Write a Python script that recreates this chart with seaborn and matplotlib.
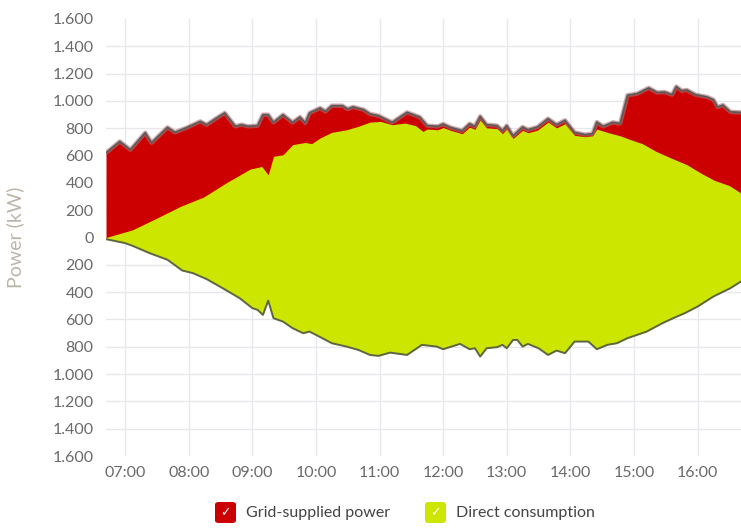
import numpy as np
import pandas as pd
import matplotlib
matplotlib.use("Agg")
import matplotlib.pyplot as plt
import seaborn as sns
from matplotlib.patches import FancyBboxPatch
from matplotlib.ticker import FuncFormatter

# total consumption (top line), kW
total_time = ["06:42", "06:55", "07:05", "07:19", "07:25", "07:40", "07:47", "07:58", "08:11", "08:17",
              "08:25", "08:34", "08:44", "08:50", "08:56", "09:05", "09:10", "09:15", "09:20", "09:29",
              "09:38", "09:45", "09:50", "09:54", "10:04", "10:09", "10:15", "10:25", "10:30", "10:35",
              "10:45", "10:51", "10:59", "11:12", "11:26", "11:38", "11:45", "11:55", "12:00", "12:07",
              "12:18", "12:25", "12:30", "12:35", "12:41", "12:51", "12:56", "13:00", "13:06", "13:15",
              "13:20", "13:29", "13:39", "13:47", "13:55", "14:04", "14:14", "14:21", "14:25", "14:31",
              "14:40", "14:47", "14:54", "15:03", "15:14", "15:22", "15:29", "15:36", "15:40", "15:45",
              "15:50", "15:58", "16:09", "16:15", "16:19", "16:24", "16:31", "16:41"]
total_kw = [620, 703, 643, 767, 694, 806, 770, 804, 850, 826,
            868, 912, 814, 826, 814, 819, 899, 899, 843, 899,
            843, 882, 839, 912, 948, 923, 965, 965, 941, 956,
            936, 905, 892, 843, 916, 882, 819, 814, 831, 806,
            782, 833, 814, 887, 826, 819, 782, 819, 745, 809,
            789, 809, 870, 826, 858, 770, 753, 760, 845, 814,
            843, 835, 1042, 1053, 1095, 1062, 1065, 1046, 1105, 1075,
            1080, 1046, 1029, 1009, 955, 970, 920, 916]

# direct consumption (upper green edge), kW
direct_time = ["06:42", "07:07", "07:30", "07:52", "08:14", "08:36", "08:58", "09:09", "09:15", "09:20",
               "09:29", "09:38", "09:50", "09:56", "10:04", "10:15", "10:29", "10:40", "10:51", "11:01",
               "11:12", "11:24", "11:34", "11:41", "11:45", "11:55", "12:00", "12:07", "12:18", "12:25",
               "12:30", "12:35", "12:41", "12:51", "12:56", "13:00", "13:06", "13:15", "13:20", "13:29",
               "13:39", "13:47", "13:55", "14:04", "14:14", "14:21", "14:25", "14:37", "14:47", "14:57",
               "15:08", "15:21", "15:35", "15:50", "16:03", "16:16", "16:30", "16:41"]
direct_kw = [0, 56, 142, 227, 296, 403, 501, 520, 459, 594,
             606, 680, 696, 687, 729, 770, 789, 814, 845, 850,
             826, 838, 819, 777, 794, 789, 805, 785, 760, 808,
             792, 860, 803, 797, 760, 795, 725, 785, 767, 786,
             845, 803, 833, 748, 738, 745, 794, 765, 745, 716,
             687, 630, 582, 533, 472, 418, 380, 325]

# PV generation (lower green area), kW, drawn downwards
pv_time = ["06:42", "07:00", "07:07", "07:23", "07:40", "07:54", "08:04", "08:17", "08:32", "08:48",
           "09:00", "09:05", "09:10", "09:15", "09:20", "09:29", "09:38", "09:48", "09:54", "10:06",
           "10:15", "10:29", "10:40", "10:51", "10:59", "11:10", "11:26", "11:40", "11:54", "12:00",
           "12:16", "12:25", "12:30", "12:35", "12:41", "12:51", "12:56", "13:00", "13:06", "13:10",
           "13:15", "13:20", "13:30", "13:39", "13:47", "13:55", "14:04", "14:17", "14:25", "14:35",
           "14:44", "14:54", "15:12", "15:27", "15:37", "15:48", "16:00", "16:15", "16:31", "16:41"]
pv_kw = [12, 41, 61, 114, 163, 242, 261, 305, 371, 444,
         517, 530, 567, 462, 591, 616, 664, 701, 689, 737,
         774, 799, 823, 860, 867, 843, 860, 786, 799, 818,
         779, 818, 811, 872, 811, 803, 786, 811, 750, 750,
         799, 779, 811, 860, 828, 847, 762, 762, 818, 786,
         774, 737, 689, 627, 591, 554, 506, 432, 371, 322]

hour_ticks = ["07:00", "08:00", "09:00", "10:00", "11:00", "12:00", "13:00", "14:00", "15:00", "16:00"]


def to_min(times):
    t = pd.to_datetime(times, format="%H:%M")
    return np.array(t.hour * 60 + t.minute, dtype=float)


red = "#cc0000"
green = "#cce600"

sns.set_style("white")
plt.rcParams["font.family"] = ["Lato", "DejaVu Sans"]

fig = plt.figure(figsize=(7.41, 5.28), dpi=100)
ax = fig.add_axes([106 / 741, 72 / 528, 635 / 741, 437 / 528])

tot = pd.DataFrame({"t": to_min(total_time), "kw": total_kw})
dirc = pd.DataFrame({"t": to_min(direct_time), "kw": direct_kw})
pv = pd.DataFrame({"t": to_min(pv_time), "kw": -np.array(pv_kw)})

ax.fill_between(tot["t"], 0, tot["kw"], color=red, lw=0, zorder=2)
ax.fill_between(dirc["t"], 0, dirc["kw"], color=green, lw=0, zorder=3)
ax.fill_between(pv["t"], 0, pv["kw"], color=green, lw=0, zorder=3)
sns.lineplot(data=tot, x="t", y="kw", ax=ax, color="#b07070", lw=3.2, alpha=0.6, zorder=4)
sns.lineplot(data=tot, x="t", y="kw", ax=ax, color="#5a5a5a", lw=1.3, zorder=5)
sns.lineplot(data=pv, x="t", y="kw", ax=ax, color="#5e6640", lw=1.4, zorder=5)

ax.set_xlim(402, 1001)
ax.set_ylim(-1600, 1600)
ax.set_xticks(to_min(hour_ticks))
ax.set_xticklabels(hour_ticks)
ax.set_yticks(np.arange(-1600, 1601, 200))
ax.yaxis.set_major_formatter(FuncFormatter(lambda v, p: f"{abs(int(v)):,}".replace(",", ".")))
ax.grid(True, color="#e8e8ec", lw=1, zorder=0)
ax.set_axisbelow(True)
ygrid = ax.yaxis.get_gridlines()
ygrid[0].set_visible(False)
ygrid[-1].set_visible(False)
for s in ax.spines.values():
    s.set_visible(False)
ax.tick_params(axis="both", length=0, labelsize=11.5, colors="#6a6a6a", pad=7)
ax.tick_params(axis="y", pad=9)
for lab in ax.get_yticklabels():
    lab.set_verticalalignment("center_baseline")
ax.set_xlabel("")
ax.set_ylabel("Power (kW)", fontsize=14, color="#bdb4aa", labelpad=20)
if ax.get_legend():
    ax.get_legend().remove()

# legend with check boxes
for x0, col, label in [(215, red, "Grid-supplied power"), (425, green, "Direct consumption")]:
    box = FancyBboxPatch((x0 / 741, 5 / 528), 21 / 741, 21 / 528, boxstyle="round,pad=0,rounding_size=0.005",
                         transform=fig.transFigure, facecolor=col, edgecolor="none")
    fig.patches.append(box)
    fig.text((x0 + 10.5) / 741, 15.5 / 528, "\u2713", color="white", fontsize=9, ha="center", va="center",
             family=["DejaVu Sans"])
    fig.text((x0 + 31) / 741, 15.5 / 528, label, color="#444444", fontsize=11.5, ha="left", va="center")

fig.savefig("out.png", dpi=100)
